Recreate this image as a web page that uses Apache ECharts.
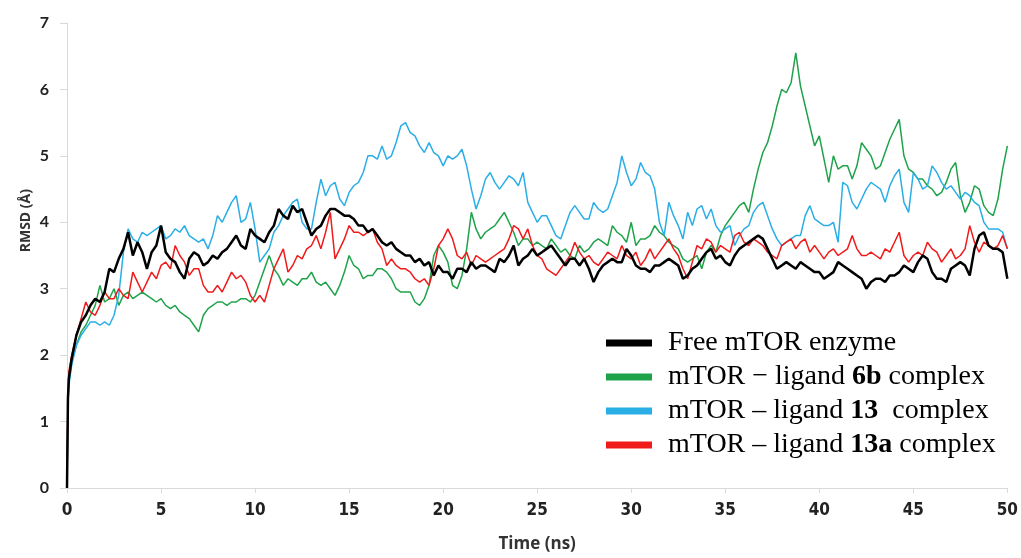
<!DOCTYPE html>
<html>
<head>
<meta charset="utf-8">
<script src="https://cdn.jsdelivr.net/npm/echarts/dist/echarts.min.js"></script>
<style>
html,body{margin:0;padding:0;background:#fff;}
#chart{width:1021px;height:558px;}
</style>
</head>
<body>
<div id="chart"></div>
<script>
// ---- data ----
const times = [0,0.05,0.1,
0.25,0.5,0.75,1,1.25,1.5,1.75,2,2.25,2.5,2.75,3,3.25,3.5,3.75,4,4.25,4.5,4.75,5,
5.25,5.5,5.75,6,6.25,6.5,6.75,7,7.25,7.5,7.75,8,8.25,8.5,8.75,9,9.25,9.5,9.75,10,
10.25,10.5,10.75,11,11.25,11.5,11.75,12,12.25,12.5,12.75,13,13.25,13.5,13.75,14,14.25,14.5,14.75,15,
15.25,15.5,15.75,16,16.25,16.5,16.75,17,17.25,17.5,17.75,18,18.25,18.5,18.75,19,19.25,19.5,19.75,20,
20.25,20.5,20.75,21,21.25,21.5,21.75,22,22.25,22.5,22.75,23,23.25,23.5,23.75,24,24.25,24.5,24.75,25,
25.25,25.5,25.75,26,26.25,26.5,26.75,27,27.25,27.5,27.75,28,28.25,28.5,28.75,29,29.25,29.5,29.75,30,
30.25,30.5,30.75,31,31.25,31.5,31.75,32,32.25,32.5,32.75,33,33.25,33.5,33.75,34,34.25,34.5,34.75,35,
35.25,35.5,35.75,36,36.25,36.5,36.75,37,37.25,37.5,37.75,38,38.25,38.5,38.75,39,39.25,39.5,39.75,40,
40.25,40.5,40.75,41,41.25,41.5,41.75,42,42.25,42.5,42.75,43,43.25,43.5,43.75,44,44.25,44.5,44.75,45,
45.25,45.5,45.75,46,46.25,46.5,46.75,47,47.25,47.5,47.75,48,48.25,48.5,48.75,49,49.25,49.5,49.75,50];

const freeEnzyme = [0,1.35,1.65,
1.95,2.3,2.5,2.6,2.75,2.85,2.8,2.95,3.3,3.25,3.45,3.6,3.85,3.5,3.7,3.55,3.3,3.55,3.65,3.95,
3.55,3.45,3.4,3.25,3.15,3.45,3.55,3.5,3.35,3.4,3.5,3.45,3.55,3.6,3.7,3.8,3.65,3.6,3.9,3.8,
3.75,3.7,3.85,3.95,4.2,4.1,4.05,4.25,4.15,4.2,4.0,3.8,3.9,3.95,4.1,4.2,4.2,4.15,4.1,4.1,
4.05,3.95,3.95,3.85,3.9,3.8,3.7,3.65,3.7,3.6,3.55,3.5,3.5,3.4,3.45,3.35,3.4,3.2,3.35,3.25,
3.25,3.15,3.3,3.3,3.25,3.4,3.3,3.35,3.35,3.3,3.25,3.45,3.4,3.5,3.65,3.35,3.45,3.5,3.6,3.5,
3.55,3.6,3.65,3.55,3.45,3.35,3.45,3.45,3.35,3.45,3.3,3.1,3.25,3.35,3.4,3.45,3.4,3.4,3.6,3.5,
3.35,3.3,3.3,3.25,3.35,3.35,3.4,3.45,3.4,3.35,3.15,3.2,3.3,3.35,3.45,3.55,3.6,3.45,3.5,3.4,
3.35,3.5,3.6,3.65,3.7,3.75,3.8,3.75,3.6,3.45,3.3,3.35,3.4,3.35,3.3,3.4,3.35,3.3,3.25,3.25,
3.15,3.2,3.25,3.4,3.35,3.3,3.25,3.2,3.15,3.0,3.1,3.15,3.15,3.1,3.2,3.2,3.25,3.35,3.3,3.25,
3.4,3.5,3.45,3.25,3.15,3.15,3.1,3.3,3.35,3.4,3.35,3.2,3.6,3.8,3.85,3.65,3.6,3.6,3.55,3.15];

const ligand6b = [0,1.3,1.6,
1.9,2.15,2.35,2.45,2.6,2.75,3.05,2.8,2.85,3.0,2.75,2.9,2.95,2.85,2.9,2.95,2.9,2.85,2.8,2.85,
2.75,2.7,2.75,2.65,2.6,2.55,2.45,2.35,2.6,2.7,2.75,2.8,2.8,2.75,2.8,2.8,2.85,2.85,2.8,2.9,
3.1,3.3,3.5,3.3,3.2,3.05,3.15,3.1,3.05,3.15,3.15,3.25,3.1,3.05,3.1,3.0,2.9,3.05,3.25,3.5,
3.35,3.3,3.15,3.2,3.2,3.3,3.3,3.25,3.15,3.0,2.95,2.95,2.95,2.8,2.75,2.85,3.05,3.5,3.65,3.55,
3.4,3.05,3.0,3.2,3.6,4.15,3.9,3.75,3.85,3.9,3.95,4.05,4.15,4.0,3.85,3.65,3.75,3.75,3.65,3.7,
3.65,3.6,3.75,3.65,3.55,3.6,3.5,3.45,3.65,3.55,3.6,3.7,3.75,3.7,3.65,3.95,3.85,3.8,3.7,4.0,
3.65,3.75,3.75,3.8,3.95,3.85,3.8,3.7,3.65,3.6,3.45,3.4,3.45,3.5,3.3,3.55,3.65,3.55,3.8,3.95,
4.05,4.15,4.25,4.3,4.15,4.5,4.8,5.05,5.2,5.45,5.75,6.0,5.95,6.1,6.55,6.05,5.75,5.45,5.15,5.3,
4.95,4.6,5.0,4.8,4.85,4.85,4.65,4.85,5.2,5.1,5.0,4.8,4.85,5.05,5.25,5.4,5.55,5.0,4.8,4.75,
4.65,4.65,4.55,4.5,4.4,4.45,4.6,4.8,4.9,4.4,4.15,4.3,4.55,4.5,4.25,4.15,4.1,4.35,4.8,5.15];

const ligand13 = [0,1.25,1.55,
1.85,2.15,2.3,2.4,2.5,2.5,2.45,2.5,2.45,2.6,2.9,3.55,3.9,3.75,3.7,3.85,3.8,3.85,3.9,3.95,
3.75,3.8,3.9,3.85,3.95,3.8,3.75,3.7,3.75,3.6,3.8,4.1,4.0,4.15,4.3,4.4,4.0,4.05,4.3,3.9,
3.4,3.5,3.6,3.85,3.95,4.1,4.2,4.3,4.35,4.0,3.9,3.9,4.3,4.65,4.4,4.55,4.6,4.35,4.25,4.45,
4.55,4.6,4.75,5.0,5.0,4.95,5.15,4.95,5.0,5.2,5.45,5.5,5.35,5.3,5.15,5.05,5.2,5.05,5.0,4.85,
5.0,4.95,5.0,5.1,4.85,4.5,4.2,4.4,4.65,4.75,4.6,4.5,4.6,4.7,4.65,4.55,4.75,4.3,4.15,4.0,
4.1,4.1,3.95,3.8,3.75,3.95,4.15,4.25,4.15,4.05,4.05,4.3,4.2,4.15,4.2,4.4,4.6,5.0,4.75,4.55,
4.65,4.9,4.75,4.7,4.5,4.0,3.8,4.3,4.1,3.95,3.75,4.15,3.95,4.2,4.25,4.05,4.2,3.95,3.85,3.9,
3.95,3.65,3.8,3.9,3.95,4.15,4.25,4.3,4.1,3.9,3.75,3.65,3.7,3.75,3.8,3.8,4.1,4.25,4.05,4.0,
3.95,3.95,4.0,3.7,4.6,4.55,4.3,4.2,4.35,4.5,4.6,4.55,4.5,4.3,4.55,4.7,4.8,4.3,4.15,4.75,
4.65,4.5,4.55,4.85,4.75,4.6,4.5,4.55,4.45,4.35,4.45,4.4,4.3,4.25,4.0,3.9,3.9,3.9,3.85,3.6];

const ligand13a = [0,1.4,1.75,
2.0,2.3,2.55,2.8,2.65,2.6,2.75,2.95,2.85,2.85,3.0,2.9,2.85,3.25,3.1,2.95,3.1,3.25,3.15,3.35,
3.4,3.3,3.65,3.5,3.4,3.2,3.3,3.3,3.05,2.95,2.95,3.05,2.95,3.1,3.25,3.15,3.2,3.1,2.9,2.8,
2.9,2.8,3.05,3.3,3.45,3.6,3.25,3.35,3.5,3.45,3.6,3.65,3.8,3.6,3.85,4.15,3.45,3.6,3.75,3.95,
3.85,3.85,3.8,3.85,3.9,3.7,3.6,3.35,3.45,3.35,3.3,3.3,3.25,3.15,3.1,3.15,3.05,3.3,3.65,3.75,
3.9,3.75,3.5,3.45,3.55,3.35,3.5,3.45,3.4,3.45,3.5,3.55,3.6,3.75,3.95,3.9,3.75,3.9,3.65,3.5,
3.45,3.3,3.25,3.2,3.3,3.4,3.5,3.7,3.55,3.45,3.5,3.4,3.35,3.45,3.55,3.5,3.45,3.65,3.5,3.45,
3.55,3.35,3.45,3.6,3.45,3.55,3.65,3.75,3.6,3.5,3.3,3.15,3.4,3.65,3.6,3.75,3.7,3.55,3.65,3.6,
3.55,3.8,3.85,3.7,3.65,3.75,3.7,3.65,3.55,3.5,3.45,3.65,3.7,3.75,3.6,3.7,3.75,3.55,3.65,3.55,
3.45,3.55,3.6,3.5,3.55,3.6,3.8,3.6,3.5,3.5,3.55,3.5,3.45,3.6,3.55,3.7,3.85,3.5,3.4,3.5,
3.55,3.5,3.7,3.6,3.55,3.4,3.5,3.6,3.45,3.5,3.6,3.95,3.7,3.55,3.7,3.65,3.6,3.65,3.8,3.6];

const seriesNames = ['Free mTOR enzyme','mTOR − ligand 6b complex','mTOR – ligand 13  complex','mTOR – ligand 13a complex'];
// legend text pieces: [plain before, bold, plain after]
const legendParts = [
  ['Free mTOR enzyme','',''],
  ['mTOR − ligand ','6b',' complex'],
  ['mTOR – ligand ','13','  complex'],
  ['mTOR – ligand ','13a',' complex']
];
const xTicks = [0,5,10,15,20,25,30,35,40,45,50];
const yTicks = [0,1,2,3,4,5,6,7];

// ---- chart ----
const colors = ['#000000','#1fa34a','#2aaee6','#f01a1a'];
const valuesList = [freeEnzyme, ligand6b, ligand13, ligand13a];
function pairs(vals){ return times.map((t,i)=>[t, vals[i]]); }

const chart = echarts.init(document.getElementById('chart'), null, {renderer:'canvas'});
const legendFmt = {};
seriesNames.forEach((n,i)=>{
  const p = legendParts[i];
  let s = '{n|' + p[0] + '}';
  if (p[1]) s += '{b|' + p[1] + '}';
  if (p[2]) s += '{n|' + p[2] + '}';
  legendFmt[n] = s;
});

chart.setOption({
  animation:false,
  backgroundColor:'#ffffff',
  grid:{left:67,right:12,top:23,bottom:67,containLabel:false},
  xAxis:{
    type:'value', min:xTicks[0], max:xTicks[xTicks.length-1], interval:5,
    name:'Time (ns)', nameLocation:'middle', nameGap:48,
    nameTextStyle:{fontFamily:'Open Sans', fontWeight:'bold', fontSize:17, color:'#333'},
    axisLine:{show:true, lineStyle:{color:'#d9d9d9', width:1}},
    axisTick:{show:true, length:5, lineStyle:{color:'#d9d9d9'}},
    axisLabel:{margin:14, fontFamily:'Liberation Sans Narrow, DejaVu Sans Condensed, sans-serif', fontWeight:'bold', fontSize:17, color:'#222'},
    splitLine:{show:false}
  },
  yAxis:{
    type:'value', min:yTicks[0], max:yTicks[yTicks.length-1], interval:1,
    axisLine:{show:true, lineStyle:{color:'#d9d9d9', width:1}},
    axisTick:{show:true, length:7, lineStyle:{color:'#d9d9d9'}},
    axisLabel:{margin:18, fontFamily:'Lato', fontWeight:'bold', fontSize:16, color:'#222'},
    splitLine:{show:false}
  },
  graphic:[{
    type:'text', left:19, top:189, rotation:Math.PI/2,
    style:{text:'RMSD (Å)', fontFamily:'Open Sans', fontWeight:'bold', fontSize:14, fill:'#333'}
  }],
  legend:{
    orient:'vertical', left:601, top:324, itemGap:6,
    itemWidth:46, itemHeight:7, icon:'rect',
    data:seriesNames,
    formatter:function(name){ return legendFmt[name]; },
    textStyle:{
      padding:[0,0,0,11],
      rich:{
        n:{fontFamily:'Liberation Serif', fontSize:28, lineHeight:28, color:'#000'},
        b:{fontFamily:'Liberation Serif', fontSize:28, lineHeight:28, fontWeight:'bold', color:'#000'}
      }
    }
  },
  series: seriesNames.map((n,i)=>({
    name:n, type:'line', showSymbol:false, symbol:'none',
    data:pairs(valuesList[i]),
    z: i===0 ? 5 : 2+i*0.1,
    lineStyle:{color:colors[i], width: i===0 ? 2.5 : 1.5},
    itemStyle:{color:colors[i]}
  }))
});
</script>
</body>
</html>
